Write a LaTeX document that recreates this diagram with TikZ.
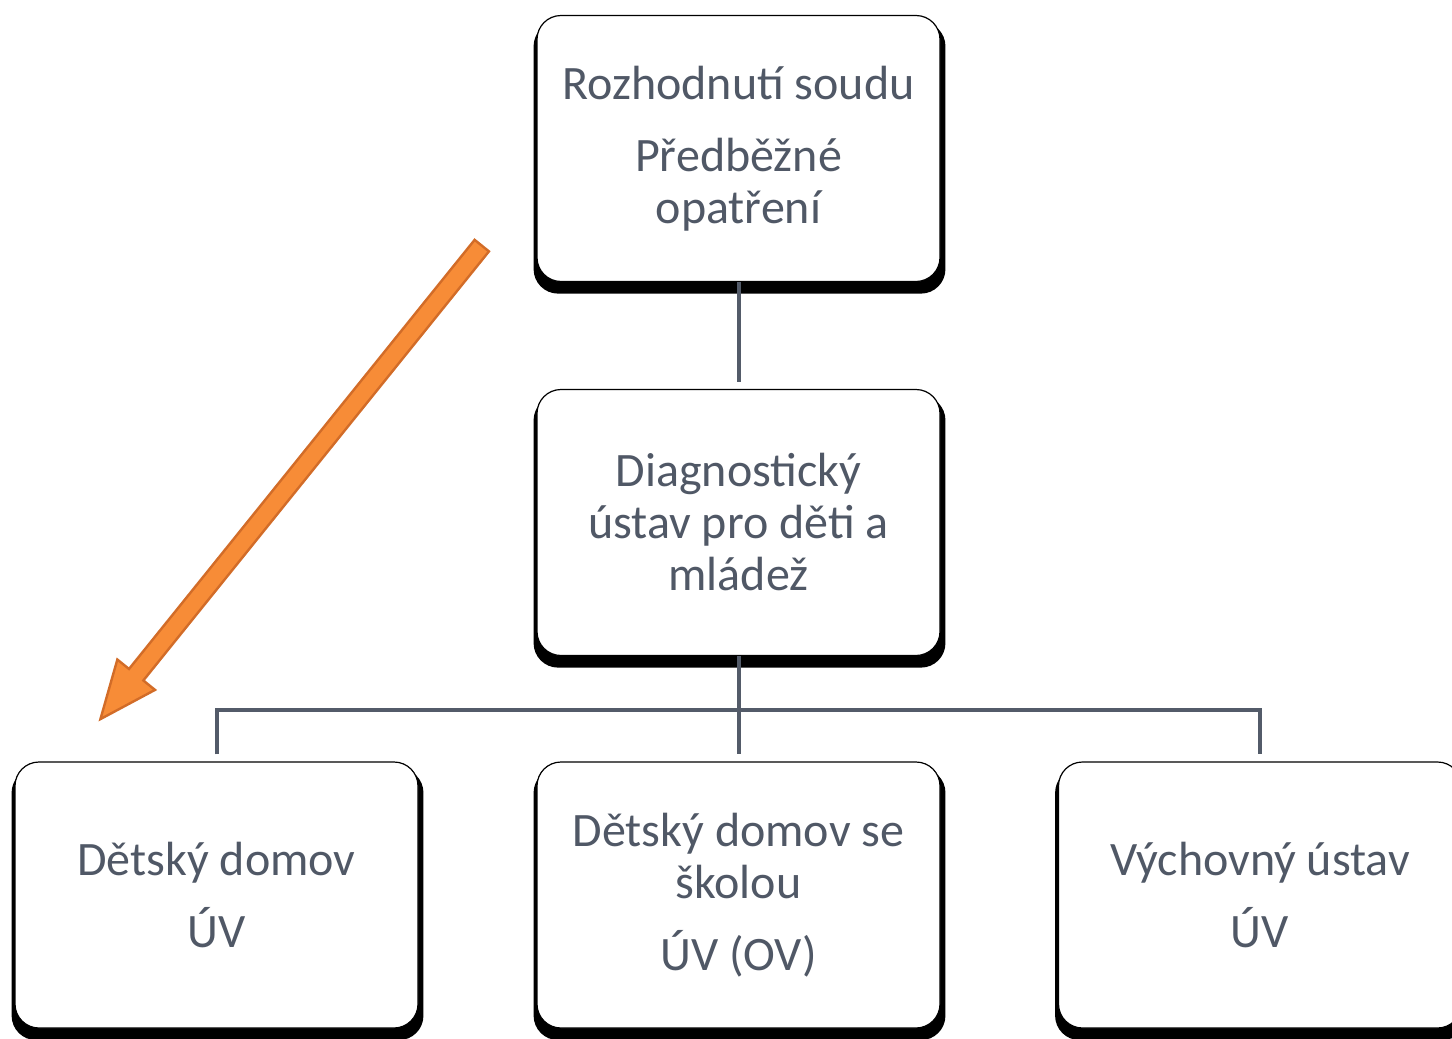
\documentclass[tikz,border=0pt]{standalone}
\usepackage{fontspec}
\setmainfont{Carlito}
\usepackage{tikz}
\usetikzlibrary{shapes.arrows,shadows}

\definecolor{txtgray}{RGB}{80,88,102}
\definecolor{linegray}{RGB}{83,91,105}
\definecolor{arrorange}{RGB}{247,140,55}
\definecolor{arrdark}{RGB}{210,108,40}

\tikzset{
  box/.style={draw=black, line width=0.6pt, fill=white, rounded corners=12pt,
    minimum width=201.5pt, minimum height=133pt, align=center, text=txtgray,
    font=\fontsize{24}{26}\selectfont,
    general shadow={fill=black, shadow scale=1.022, shadow xshift=0.5pt, shadow yshift=-4.5pt}},
  conn/.style={draw=linegray, line width=2pt},
}

\begin{document}
\begin{tikzpicture}[x=0.5pt,y=-0.5pt]
\useasboundingbox (0,0) rectangle (1452,1039);
\clip (0,0) rectangle (1452,1039);

\def \gap {3.5pt} % connectors stop short of the boxes

% boxes
\node[box] (soud) at (738.5,148.5) {Rozhodnutí soudu\\[10pt]Předběžné\\opatření};
\node[box] (diag) at (738.5,522.5) {Diagnostický\\ústav pro děti a\\mládež};
\node[box] (dd)   at (216.5,895)   {Dětský domov\\[10pt]ÚV};
\node[box] (dds)  at (738.5,895)   {Dětský domov se\\školou\\[10pt]ÚV (OV)};
\node[box] (vu)   at (1260,895)    {Výchovný ústav\\[10pt]ÚV};

% connectors
\coordinate (bus) at (738.5,710);
\draw[conn] (soud.south) -- ([yshift=\gap]diag.north);
\draw[conn] (diag.south) -- ([yshift=\gap]dds.north);
\draw[conn] ([yshift=\gap]dd.north) |- (bus) -| ([yshift=\gap]vu.north);

% orange arrow
\node[single arrow, draw=arrdark, fill=arrorange, line width=1.2pt,
  minimum height=304pt, inner xsep=0pt, inner ysep=4pt,
  single arrow head extend=7.5pt, single arrow tip angle=46,
  rotate=231.15, anchor=tip] (pfeil) at (98.5,721.5) {};

\end{tikzpicture}
\end{document}
